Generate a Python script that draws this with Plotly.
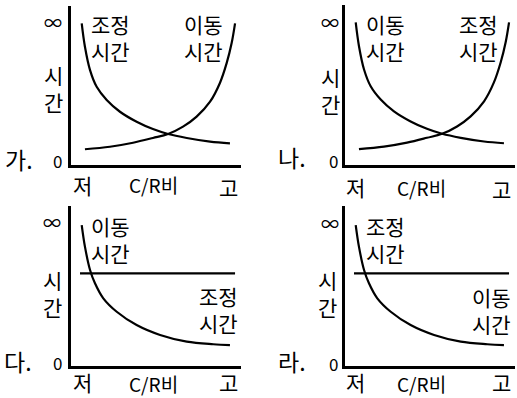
import plotly.graph_objects as go

# x: 0 = 저, 10 = 고 ; y: 0 = 0, 10 = top of axis (∞)
fall_x = [0.63, 0.82, 1.12, 1.51, 2.10, 2.88, 3.86, 4.82, 5.71, 6.81, 8.18, 9.35]
fall_y = [8.91, 7.44, 5.97, 4.92, 4.09, 3.35, 2.72, 2.26, 1.95, 1.70, 1.47, 1.36]
rise_x = [0.82, 2.29, 3.65, 4.82, 5.71, 6.59, 7.39, 8.18, 8.76, 9.16, 9.45, 9.65]
rise_y = [0.99, 1.15, 1.40, 1.70, 1.95, 2.41, 3.04, 3.98, 5.16, 6.42, 7.67, 8.91]
steep_x = [0.63, 0.82, 1.12, 1.41, 1.90, 2.69, 3.86, 5.24, 6.81, 8.37, 9.35]
steep_y = [8.81, 7.46, 6.00, 5.17, 4.23, 3.39, 2.56, 1.94, 1.52, 1.36, 1.31]
flat_x = [0.53, 9.65]
flat_y = [5.79, 5.79]

panel_marks = ["가.", "나.", "다.", "라."]
falling_names = ["조정<br>시간", "이동<br>시간", "이동<br>시간", "조정<br>시간"]
other_names = ["이동<br>시간", "조정<br>시간", "조정<br>시간", "이동<br>시간"]
x_ticks = ["저", "C/R비", "고"]
y_ticks = ["∞", "시<br>간", "0"]

W, H = 517, 398
FONT = "Noto Sans CJK KR"
panels = [
    dict(left=71, top=6, bottom=165),
    dict(left=345, top=5, bottom=165),
    dict(left=71, top=206, bottom=366),
    dict(left=345, top=206, bottom=366),
]

# label centres in pixels, per panel (None for y -> sit on the bottom edge)
labels = [
    dict(inf=(53, 22), side=(53, 88), zero=(57, 160), mark=(19, 159),
         lo=(82, 185), mid=(153, 185), hi=(228, 187), a=(110, 37), b=(203, 37)),
    dict(inf=(330, 22), side=(330, 91), zero=(333, 161), mark=(292, 157),
         lo=(355, 187), mid=(421, 187), hi=(501, 189), a=(385, 37), b=(478, 37)),
    dict(inf=(52, 222), side=(52, 293), zero=(57, 362), mark=(18, 361),
         lo=(82, None), mid=(153, None), hi=(228, None), a=(110, 240), b=(218, 309)),
    dict(inf=(330, 223), side=(327, 293), zero=(333, 363), mark=(292, 361),
         lo=(355, None), mid=(421, None), hi=(501, None), a=(385, 240), b=(491, 310)),
]

fig = go.Figure()
line = dict(color="black", width=2.2)


def ann(pos, t, size=21):
    if pos[1] is None:
        y, anchor = 0, "bottom"
    else:
        y, anchor = 1 - pos[1] / H, "middle"
    fig.add_annotation(x=pos[0] / W, y=y, xref="paper", yref="paper",
                       text=t, showarrow=False, borderpad=0,
                       font=dict(family=FONT, size=size, color="black"),
                       xanchor="center", yanchor=anchor, align="center")


for i, p in enumerate(panels):
    n = "" if i == 0 else str(i + 1)
    xa, ya = "x" + n, "y" + n
    fig.update_layout({
        "xaxis" + n: dict(domain=[p["left"] / W, (p["left"] + 170) / W], range=[0, 10],
                          showline=True, linecolor="black", linewidth=2.5, showgrid=False,
                          zeroline=False, showticklabels=False, ticks="", anchor=ya, fixedrange=True),
        "yaxis" + n: dict(domain=[1 - p["bottom"] / H, 1 - p["top"] / H], range=[0, 10],
                          showline=True, linecolor="black", linewidth=2.5, showgrid=False,
                          zeroline=False, showticklabels=False, ticks="", anchor=xa, fixedrange=True),
    })
    if i < 2:
        fig.add_trace(go.Scatter(x=fall_x, y=fall_y, mode="lines", line_shape="spline",
                                 line=line, xaxis=xa, yaxis=ya, showlegend=False))
        fig.add_trace(go.Scatter(x=rise_x, y=rise_y, mode="lines", line_shape="spline",
                                 line=line, xaxis=xa, yaxis=ya, showlegend=False))
    else:
        fig.add_trace(go.Scatter(x=steep_x, y=steep_y, mode="lines", line_shape="spline",
                                 line=line, xaxis=xa, yaxis=ya, showlegend=False))
        fig.add_trace(go.Scatter(x=flat_x, y=flat_y, mode="lines",
                                 line=line, xaxis=xa, yaxis=ya, showlegend=False))

    lb = labels[i]
    ann(lb["inf"], y_ticks[0], 18)
    ann(lb["side"], y_ticks[1])
    ann(lb["zero"], y_ticks[2], 17)
    ann(lb["mark"], panel_marks[i], 23)
    ann(lb["lo"], x_ticks[0])
    ann(lb["mid"], x_ticks[1], 19)
    ann(lb["hi"], x_ticks[2])
    ann(lb["a"], falling_names[i])
    ann(lb["b"], other_names[i])

fig.update_layout(width=W, height=H, margin=dict(l=0, r=0, t=0, b=0),
                  paper_bgcolor="white", plot_bgcolor="white")
fig.write_html("out.html", config={"displayModeBar": False},
               post_script="document.body.style.margin='0';")
